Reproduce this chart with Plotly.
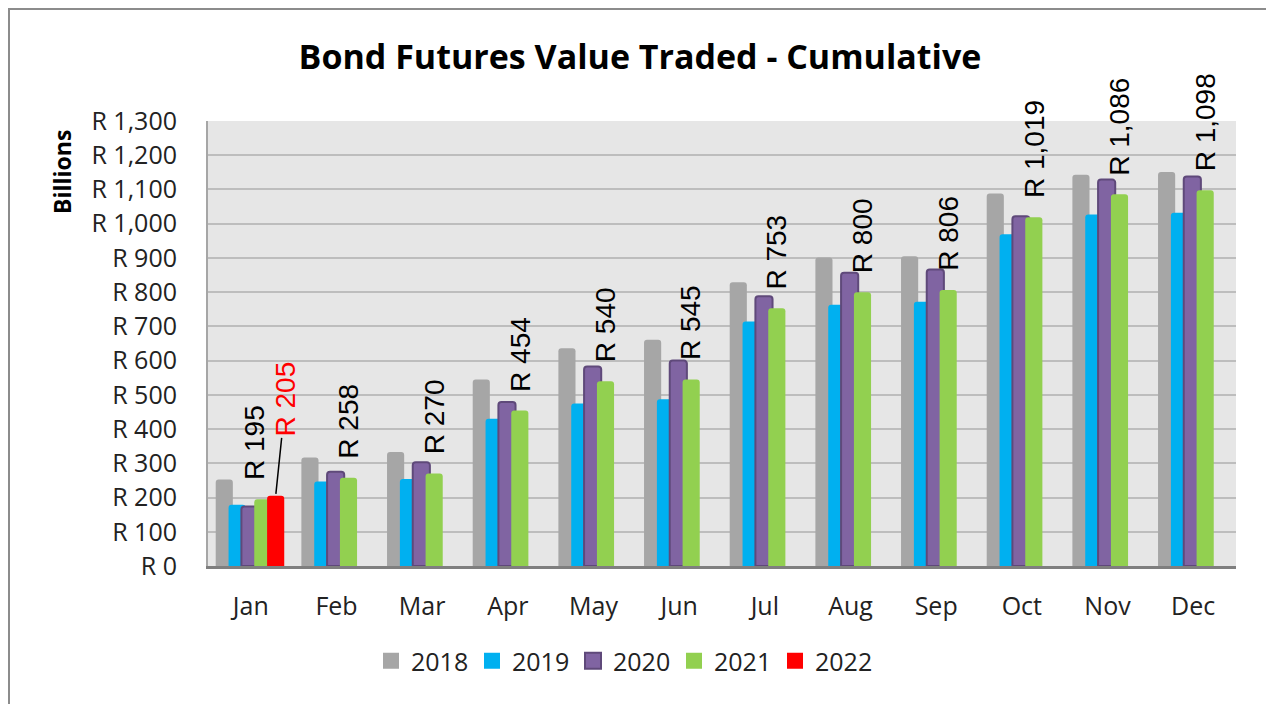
import plotly.graph_objects as go

months = ["Jan", "Feb", "Mar", "Apr", "May", "Jun", "Jul", "Aug", "Sep", "Oct", "Nov", "Dec"]
years = ["2018", "2019", "2020", "2021", "2022"]
v2018 = [253, 317, 333, 545, 636, 661, 829, 901, 905, 1088, 1143, 1151]
v2019 = [179, 247, 254, 430, 475, 487, 714, 763, 772, 969, 1027, 1032]
v2020 = [174, 275, 303, 479, 583, 600, 788, 857, 866, 1022, 1129, 1138]
v2021 = [195, 258, 270, 454, 540, 545, 753, 800, 806, 1019, 1086, 1098]
v2022 = [205]
y_ticks = list(range(0, 1301, 100))
y_tick_labels = [f"R {t:,}" for t in y_ticks]

series = [v2018, v2019, v2020, v2021, v2022]
fills = ["#A6A6A6", "#00B0F0", "#8064A2", "#92D050", "#FF0000"]
borders = ["#A6A6A6", "#00B0F0", "#5F497A", "#92D050", "#FF0000"]
border_w = [0, 0, 2, 0, 0]
offsets = [-0.41, -0.26, -0.11, 0.04, 0.19]
bar_w = 0.2

# figure is drawn inside the page body (8px default margin), so size/margins are shifted
W, H = 1266, 696
L, R, T, B = 200, 38, 113, 138
PW = W - L - R
PH = H - T - B

fig = go.Figure()
for name, vals, fc, bc, bw, off in zip(years, series, fills, borders, border_w, offsets):
    fig.add_trace(go.Bar(
        x=months[:len(vals)], y=vals, name=name,
        offset=off, width=bar_w,
        marker=dict(color=fc, line=dict(color=bc, width=bw), cornerradius=3),
        showlegend=False, hoverinfo="x+y+name",
    ))
    fig.add_trace(go.Scatter(
        x=[None], y=[None], mode="markers", name=name,
        marker=dict(symbol="square", size=16, color=fc,
                    line=dict(color=bc, width=2 if bw else 0)),
        showlegend=True,
    ))

annotations = []
green_center = offsets[3] + bar_w / 2
for i, v in enumerate(v2021):
    annotations.append(dict(
        x=i + green_center - (0.1 if i == 0 else 0), y=v, xref="x", yref="y",
        text=f"R {v:,}", textangle=-90, showarrow=False,
        xanchor="center", yanchor="bottom", yshift=17,
        font=dict(family="Liberation Sans, Arial", size=28, color="#000000"),
    ))
red_center = offsets[4] + bar_w / 2
for i, v in enumerate(v2022):
    annotations.append(dict(
        x=i + red_center, y=v, xref="x", yref="y",
        text=f"R {v:,}", textangle=-90, showarrow=True,
        arrowhead=0, arrowwidth=1.5, arrowcolor="#000000",
        ax=10, ay=-97, standoff=2,
        font=dict(family="Liberation Sans, Arial", size=28, color="#FF0000"),
    ))
# axis title placed near the top of the value axis
annotations.append(dict(
    x=(54 - L) / PW, y=(558 - 164) / PH, xref="paper", yref="paper",
    text="<b>Billions</b>", textangle=-90, showarrow=False,
    xanchor="center", yanchor="middle",
    font=dict(family="Open Sans", size=23, color="#000000"),
))

fig.update_layout(
    width=W, height=H,
    margin=dict(l=L, r=R, t=T, b=B, autoexpand=False),
    barmode="overlay",
    paper_bgcolor="#FFFFFF",
    plot_bgcolor="#E6E6E6",
    font=dict(family="Open Sans", size=24, color="#222222"),
    title=dict(text="<b>Bond Futures Value Traded - Cumulative</b>",
               x=632 / W, xref="container", xanchor="center",
               y=1 - 49 / H, yref="container", yanchor="middle",
               font=dict(family="Open Sans", size=34, color="#000000")),
    xaxis=dict(
        categoryorder="array", categoryarray=months,
        range=[-0.5, 11.5], showgrid=False,
        showline=True, linecolor="#7F7F7F", linewidth=3,
        ticks="", ticklabelstandoff=16,
        tickfont=dict(family="Open Sans", size=25, color="#222222"),
    ),
    yaxis=dict(
        range=[0, 1300], tickvals=y_ticks, ticktext=y_tick_labels,
        showgrid=True, gridcolor="#BDBDBD", gridwidth=2,
        zeroline=False, showline=True, linecolor="#A6A6A6", linewidth=2,
        ticks="", ticklabelstandoff=24,
        tickfont=dict(family="Open Sans", size=25, color="#222222"),
    ),
    legend=dict(
        orientation="h", x=(363 - L) / PW, xanchor="left",
        y=(558 - 653) / PH, yanchor="middle",
        entrywidth=56, entrywidthmode="pixels",
        font=dict(family="Open Sans", size=25, color="#222222"),
        itemclick=False, itemdoubleclick=False,
    ),
    annotations=annotations,
    shapes=[dict(type="rect", xref="paper", yref="paper",
                 x0=(1 - L) / PW, x1=(1264 - L) / PW,
                 y0=(558 - 720) / PH, y1=(558 - 1) / PH,
                 line=dict(color="#8C8C8C", width=2), layer="below")],
)

fig.write_html("out.html")
